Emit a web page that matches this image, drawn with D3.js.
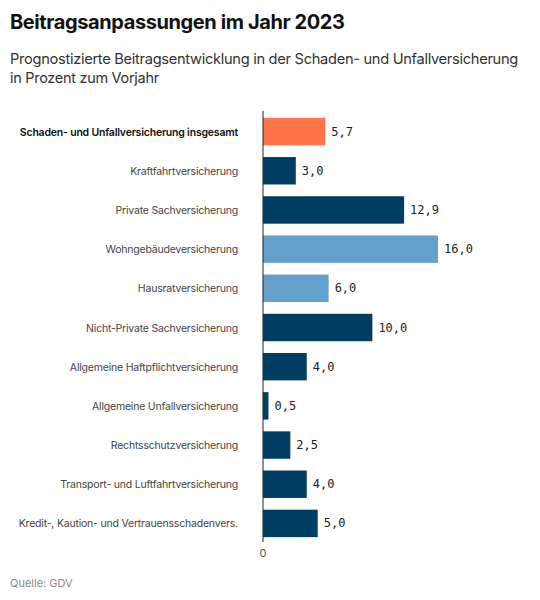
<!DOCTYPE html><html><head><meta charset="utf-8"><script src="https://cdn.jsdelivr.net/npm/d3@7"></script>
<style>body{margin:0;background:#fff;font-family:Inter,"Noto Sans",sans-serif}</style></head><body><svg id="c" width="540" height="600"></svg>
<script>
const categories=["Schaden- und Unfallversicherung insgesamt","Kraftfahrtversicherung","Private Sachversicherung","Wohngebäudeversicherung","Hausratversicherung","Nicht-Private Sachversicherung","Allgemeine Haftpflichtversicherung","Allgemeine Unfallversicherung","Rechtsschutzversicherung","Transport- und Luftfahrtversicherung","Kredit-, Kaution- und Vertrauensschadenvers."];
const values=[5.7,3.0,12.9,16.0,6.0,10.0,4.0,0.5,2.5,4.0,5.0];
const groups=["total","dark","dark","light","light","dark","dark","dark","dark","dark","dark"];
const colors={total:"#ff7448",dark:"#003f63",light:"#659fcc"};
const svg=d3.select("#c");
svg.append("text").attr("x",10).attr("y",29).attr("font-size",20).attr("font-weight",700).attr("letter-spacing",-0.4).attr("fill","#111").text("Beitragsanpassungen im Jahr 2023");
svg.append("text").attr("x",10).attr("y",64).attr("font-size",14.5).attr("letter-spacing",-0.3).attr("fill","#333").attr("textLength",508).attr("lengthAdjust","spacingAndGlyphs").text("Prognostizierte Beitragsentwicklung in der Schaden- und Unfallversicherung");
svg.append("text").attr("x",10).attr("y",83).attr("font-size",14.5).attr("letter-spacing",-0.3).attr("fill","#333").text("in Prozent zum Vorjahr");
const x=d3.scaleLinear().domain([0,16]).range([263,438]);
const y=d3.scaleBand().domain(categories).range([111,542]).paddingInner(0.3).paddingOuter(0.15);
svg.selectAll("rect.b").data(categories).join("rect").attr("x",x(0)).attr("y",d=>y(d)+1).attr("height",y.bandwidth()).attr("width",(d,i)=>x(values[i])-x(0)).attr("fill",(d,i)=>colors[groups[i]]);
svg.selectAll("text.v").data(categories).join("text").attr("x",(d,i)=>x(values[i])+6).attr("y",d=>y(d)+y.bandwidth()/2+5).attr("font-family","'DejaVu Sans Mono',monospace").attr("font-size",12).attr("fill","#222").text((d,i)=>values[i].toFixed(1).replace(".",","));
svg.selectAll("text.c").data(categories).join("text").attr("x",238).attr("y",d=>y(d)+y.bandwidth()/2+5).attr("text-anchor","end").attr("font-size",10.5).attr("letter-spacing",-0.2).attr("fill",(d,i)=>i==0?"#111":"#444").attr("font-weight",(d,i)=>i==0?600:400).text(d=>d);
svg.append("line").attr("x1",x(0)).attr("x2",x(0)).attr("y1",111).attr("y2",542).attr("stroke","#222").attr("stroke-width",1);
svg.append("text").attr("x",x(0)).attr("y",557).attr("text-anchor","middle").attr("font-size",11).attr("fill","#555").text("0");
svg.append("text").attr("x",10).attr("y",587).attr("font-size",11).attr("fill","#888").text("Quelle: GDV");
</script></body></html>
